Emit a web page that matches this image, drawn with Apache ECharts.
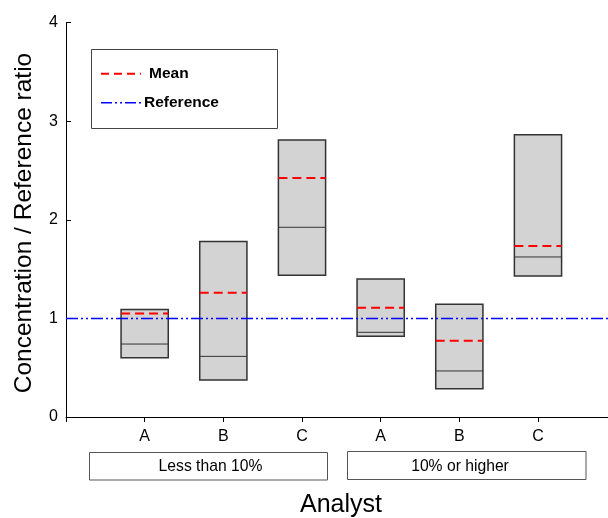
<!DOCTYPE html>
<html>
<head>
<meta charset="utf-8">
<script src="https://cdn.jsdelivr.net/npm/echarts@6/dist/echarts.min.js"></script>
<style>
html,body{margin:0;padding:0;background:#fff;}
#chart{width:608px;height:518px;}
</style>
</head>
<body>
<div id="chart"></div>
<script>
// ---- data ----
const positions = [1, 2, 3, 4, 5, 6];
const analysts = ['A', 'B', 'C', 'A', 'B', 'C'];
const groups = ['Less than 10%', '10% or higher'];
const boxLow = [0.60, 0.375, 1.437, 0.818, 0.287, 1.43];
const boxHigh = [1.09, 1.78, 2.81, 1.40, 1.143, 2.863];
const medians = [0.74, 0.615, 1.924, 0.859, 0.467, 1.623];
const means = [1.05, 1.26, 2.424, 1.109, 0.774, 1.734];
const referenceValue = 1;
const yTicks = [0, 1, 2, 3, 4];
const xTicks = [0, 1, 2, 3, 4, 5, 6];

const FONT = '"Liberation Sans", Arial, sans-serif';
const xMax = 6.89;
const halfW = 0.3;

const boxData = positions.map((p, i) => [p, boxLow[i], boxHigh[i], medians[i]]);
const meanData = positions.map((p, i) => [p, means[i]]);

const chart = echarts.init(document.getElementById('chart'), null, {renderer: 'canvas'});

const option = {
  animation: false,
  backgroundColor: '#fff',
  grid: {left: 66, right: 0, top: 22.6, bottom: 101},
  xAxis: {
    type: 'value', min: 0, max: xMax, interval: 1,
    splitLine: {show: false},
    axisLine: {show: true, onZero: false, lineStyle: {color: '#000', width: 1}},
    axisTick: {show: true, inside: false, length: 5, customValues: xTicks, lineStyle: {color: '#000'}},
    axisLabel: {
      margin: 12, fontSize: 16, color: '#000', fontFamily: FONT,
      customValues: positions,
      formatter: v => { const i = positions.indexOf(v); return i >= 0 ? analysts[i] : ''; }
    }
  },
  yAxis: {
    type: 'value', min: yTicks[0], max: yTicks[yTicks.length - 1], interval: 1,
    splitLine: {show: false},
    axisLine: {show: true, lineStyle: {color: '#000', width: 1}},
    axisTick: {show: true, inside: true, length: 5, lineStyle: {color: '#000'}},
    axisLabel: {margin: 8, fontSize: 16, color: '#000', fontFamily: FONT}
  },
  series: [
    {
      type: 'custom', z: 2,
      data: boxData,
      renderItem: function (params, api) {
        const x = api.value(0), lo = api.value(1), hi = api.value(2), med = api.value(3);
        const p1 = api.coord([x - halfW, hi]);
        const p2 = api.coord([x + halfW, lo]);
        const m1 = api.coord([x - halfW, med]);
        const m2 = api.coord([x + halfW, med]);
        return {
          type: 'group',
          children: [
            {type: 'rect', shape: {x: p1[0], y: p1[1], width: p2[0] - p1[0], height: p2[1] - p1[1]},
             style: {fill: '#d3d3d3', stroke: '#333', lineWidth: 1.5}},
            {type: 'line', shape: {x1: m1[0], y1: m1[1], x2: m2[0], y2: m2[1]},
             style: {stroke: '#333', lineWidth: 1}}
          ]
        };
      }
    },
    {
      type: 'custom', z: 3,
      data: meanData,
      renderItem: function (params, api) {
        const x = api.value(0), m = api.value(1);
        const a = api.coord([x - halfW, m]);
        const b = api.coord([x + halfW, m]);
        return {type: 'line', shape: {x1: a[0], y1: a[1], x2: b[0], y2: b[1]},
                style: {stroke: '#ff0000', lineWidth: 2, lineDash: [9, 5]}};
      }
    },
    {
      type: 'line', z: 4, symbol: 'none', silent: true,
      data: [[0, referenceValue], [xMax, referenceValue]],
      lineStyle: {color: '#0000ff', width: 1.5, type: [12, 3, 2, 3, 2, 3]}
    }
  ],
  graphic: [
    // legend
    {type: 'rect', shape: {x: 91.5, y: 49.5, width: 186, height: 79}, style: {fill: '#fff', stroke: '#444', lineWidth: 1}, z: 10},
    {type: 'line', shape: {x1: 101, y1: 73.7, x2: 141, y2: 73.7}, style: {stroke: '#ff0000', lineWidth: 2, lineDash: [8, 5]}, z: 11},
    {type: 'text', x: 149, y: 73.7, style: {text: 'Mean', font: 'bold 15.5px ' + FONT, fill: '#000', verticalAlign: 'middle', align: 'left'}, z: 11},
    {type: 'line', shape: {x1: 101, y1: 102.7, x2: 141, y2: 102.7}, style: {stroke: '#0000ff', lineWidth: 1.5, lineDash: [11, 3, 2, 3, 2, 3]}, z: 11},
    {type: 'text', x: 144, y: 102.7, style: {text: 'Reference', font: 'bold 15.5px ' + FONT, fill: '#000', verticalAlign: 'middle', align: 'left'}, z: 11},
    // group boxes
    {type: 'rect', shape: {x: 89.5, y: 452.5, width: 238, height: 27.5}, style: {fill: '#fff', stroke: '#555', lineWidth: 1}},
    {type: 'text', x: 210.5, y: 467, style: {text: groups[0], font: '15.7px ' + FONT, fill: '#000', align: 'center', verticalAlign: 'middle'}},
    {type: 'rect', shape: {x: 347.5, y: 451.5, width: 238.5, height: 28}, style: {fill: '#fff', stroke: '#555', lineWidth: 1}},
    {type: 'text', x: 460, y: 466.5, style: {text: groups[1], font: '15.7px ' + FONT, fill: '#000', align: 'center', verticalAlign: 'middle'}},
    // axis titles
    {type: 'text', x: 341, y: 505, style: {text: 'Analyst', font: '25px ' + FONT, fill: '#000', align: 'center', verticalAlign: 'middle'}},
    {type: 'text', x: 24, y: 223, rotation: Math.PI / 2, style: {text: 'Concentration / Reference ratio', font: '24.5px ' + FONT, fill: '#000', align: 'center', verticalAlign: 'middle'}}
  ]
};
chart.setOption(option);
</script>
</body>
</html>
